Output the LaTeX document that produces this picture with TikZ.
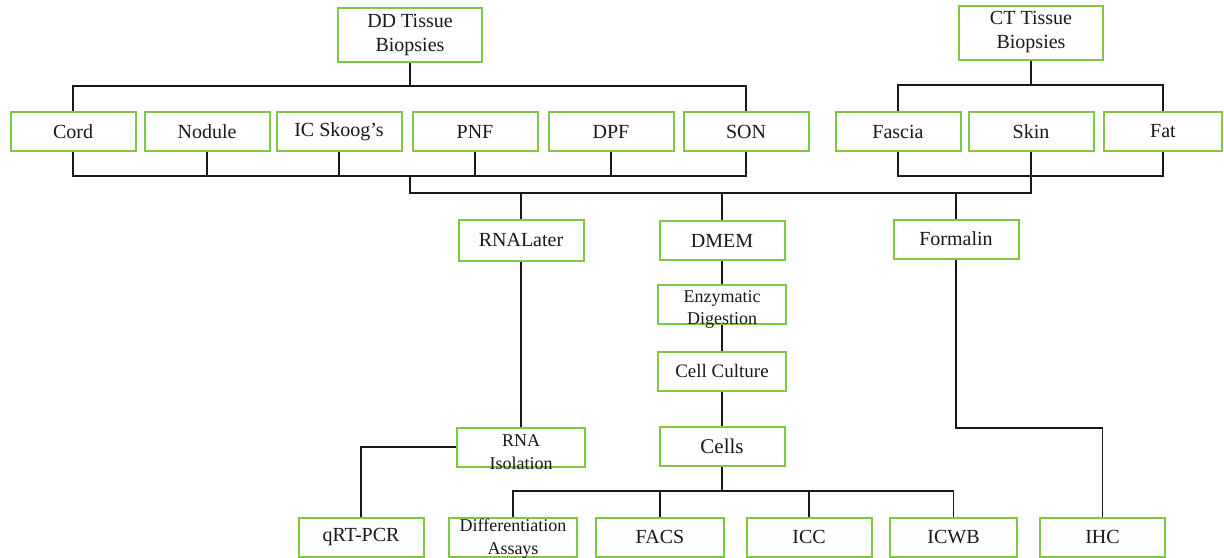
\documentclass[tikz,border=0pt]{standalone}
\usepackage{fontspec}
\setmainfont{Liberation Serif}
\definecolor{boxgreen}{RGB}{126,200,68}
\definecolor{ink}{RGB}{25,25,25}
\newcommand{\lowtwo}[3]{\raisebox{-#1}[\height][\depth]{\parbox{64pt}{\centering #2\\#3}}}
\tikzset{
  box/.style={draw=boxgreen, line width=1pt, fill=white, text=ink, inner sep=0pt,
    minimum width=62.5pt, minimum height=19.5pt, align=center,
    font=\fontsize{10}{12}\selectfont},
  smallbox/.style={box, font=\fontsize{9}{11.2}\selectfont},
  tallbox/.style={box, minimum width=72pt, minimum height=27pt, font=\fontsize{10}{12}\selectfont},
  link/.style={draw=ink, line width=0.85pt}
}
\begin{document}
\begin{tikzpicture}[x=0.5pt,y=-0.5pt]
\useasboundingbox[fill=white] (0,0) rectangle (1224,557);
% top boxes
\node[tallbox] (dd) at (410,35) {DD Tissue\\Biopsies};
\node[tallbox] (ct) at (1031,32.5) {CT Tissue\\Biopsies};
% row
\node[box] (cord) at (73,131.5) {Cord};
\node[box] (nodule) at (207,131.5) {Nodule};
\node[box] (icskoog) at (339,131.5) {IC Skoog’s};
\node[box] (pnf) at (475,131.5) {PNF};
\node[box] (dpf) at (611,131.5) {DPF};
\node[box] (son) at (746,131.5) {SON};
\node[box] (fascia) at (898,131.5) {Fascia};
\node[box] (skin) at (1031,131.5) {Skin};
\node[box, minimum width=59pt] (fat) at (1163,131.5) {Fat};
% middle
\node[box, minimum height=20.5pt] (rnalater) at (521,240) {RNALater};
\node[box] (dmem) at (722,240.5) {DMEM};
\node[box] (formalin) at (956,239) {Formalin};
\node[smallbox, minimum width=64pt] (enz) at (722,304.5) {\lowtwo{2.5pt}{Enzymatic}{Digestion}};
\node[box, minimum width=64pt, font=\fontsize{9.5}{12}\selectfont] (culture) at (722,371) {Cell Culture};
\node[box, font=\fontsize{10.5}{12}\selectfont] (cells) at (722,446.5) {Cells};
\node[smallbox] (rnaiso) at (521,447) {\lowtwo{2.5pt}{RNA}{Isolation}};
% bottom
\node[box] (qrt) at (361,537) {qRT-PCR};
\node[smallbox, minimum width=63.5pt] (diff) at (513,537) {\lowtwo{0.8pt}{Differentiation}{Assays}};
\node[box, minimum width=64pt] (facs) at (660,537) {FACS};
\node[box] (icc) at (809,537) {ICC};
\node[box, minimum width=63.5pt] (icwb) at (953.5,537) {ICWB};
\node[box] (ihc) at (1102.5,537) {IHC};
% bus coordinates
\coordinate (ddbus) at (410,86);
\coordinate (ddlow) at (410,176);
\coordinate (ctbus) at (1031,85);
\coordinate (ctlow) at (1031,176);
\coordinate (midl) at (410,193);
\coordinate (midr) at (1031,193);
\coordinate (fturn) at (956,428);
\coordinate (cbus) at (722,491);
% DD tree
\draw[link] (dd.south) -- (ddbus);
\draw[link] (cord.north) |- (ddbus) -| (son.north);
\draw[link] (cord.south) |- (ddlow) -| (son.south);
\draw[link] (nodule.south) -- (nodule.south |- ddlow);
\draw[link] (icskoog.south) -- (icskoog.south |- ddlow);
\draw[link] (pnf.south) -- (pnf.south |- ddlow);
\draw[link] (dpf.south) -- (dpf.south |- ddlow);
% CT tree
\draw[link] (ct.south) -- (ctbus);
\draw[link] (fascia.north) |- (ctbus) -| (fat.north);
\draw[link] (fascia.south) |- (ctlow) -| (fat.south);
\draw[link] (skin.south) -- (ctlow);
% joined bus
\draw[link] (ddlow) -- (midl) -- (midr) -- (ctlow);
\draw[link] (rnalater.north) -- (rnalater.north |- midl);
\draw[link] (dmem.north) -- (dmem.north |- midl);
\draw[link] (formalin.north) -- (formalin.north |- midl);
% chains
\draw[link] (rnalater.south) -- (rnaiso.north);
\draw[link] (rnaiso.west) -| (qrt.north);
\draw[link] (dmem.south) -- (enz.north);
\draw[link] (enz.south) -- (culture.north);
\draw[link] (culture.south) -- (cells.north);
\draw[link] (formalin.south) -- (fturn) -| (ihc.north);
\draw[link] (cells.south) -- (cbus);
\draw[link] (diff.north) |- (cbus) -| (icwb.north);
\draw[link] (facs.north) -- (facs.north |- cbus);
\draw[link] (icc.north) -- (icc.north |- cbus);
\end{tikzpicture}
\end{document}
